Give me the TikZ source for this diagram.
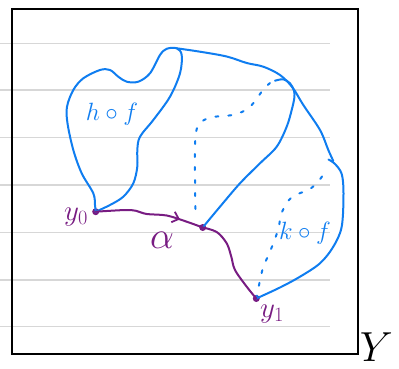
\RequirePackage{fix-cm}
\documentclass[tikz,border=0pt]{standalone}
\usetikzlibrary{decorations.markings,arrows.meta}
\definecolor{myblue}{RGB}{15,125,240}
\definecolor{mypurple}{RGB}{120,28,130}
\definecolor{gridgray}{RGB}{215,215,215}
\tikzset{
  blueline/.style={draw=myblue, line width=2pt, line cap=round, line join=round},
  purpleline/.style={draw=mypurple, line width=2pt, line cap=round, line join=round},
  dotline/.style={draw=myblue, line width=2pt, line cap=round, dash pattern=on 3pt off 10pt},
  gridline/.style={draw=gridgray, line width=1.1pt},
  framebox/.style={draw=black, line width=2pt},
  dotpt/.style={circle, fill=mypurple, inner sep=0pt, minimum size=7pt},
  bluelabel/.style={text=myblue, inner sep=0pt, font=\fontsize{25}{28}\selectfont},
  purplelabel/.style={text=mypurple, inner sep=0pt, font=\fontsize{29}{32}\selectfont},
  midarrow/.style={postaction={decorate}, decoration={markings, mark=at position #1 with {\arrow[mypurple,line width=1.8pt]{Straight Barb[length=6pt,width=11pt]}}}}
}
\begin{document}
\begin{tikzpicture}[x=1pt,y=-1pt]
\useasboundingbox (0,0) rectangle (399,369);
% ruled lines
\foreach \yy [count=\i] in {43.3,90,137.7,185,232.3,280,326.7}
  \draw[gridline] (0,\yy) coordinate (gl\i) -- (330,\yy) coordinate (gr\i);
% frame
\node[framebox, inner sep=0pt, minimum width=346pt, minimum height=345pt, anchor=north west] (frame) at (11,8) {};
% points
\node[dotpt] (y0) at (95.7,211.7) {};
\node[dotpt] (m) at (202.7,227.5) {};
\node[dotpt] (y1) at (256.3,298.5) {};
\coordinate (top) at (176.7,48.3);
\coordinate (junc) at (292.5,87.5);
% h o f loop
\draw[blueline] plot[smooth, tension=0.55] coordinates {
 (y0.center) (95,205) (93.3,193.3) (81.7,173.3) (73.3,150) (67.5,123.3) (67,106.7) (73.3,90) (83.3,78.3)
 (100,70) (110,70) (118.3,76.7) (126.7,81.7) (138.3,81.7) (150,73.3) (160,55) (166.7,48.8) (top)
 (181.7,55) (180,73.3) (170,96.7) (153.3,120) (140,136.7) (137.3,150) (137.3,166.7) (133.3,183.3)
 (123.3,196.7) (110,205) (y0.center)};
% outer big loop
\draw[blueline] plot[smooth, tension=0.55] coordinates {
 (top) (200,51.7) (226.7,56.5) (246.7,63) (263.3,66.7) (280,75) (junc) (303.3,105) (320,130)
 (328.3,150) (333.3,161)};
\draw[blueline] plot[smooth, tension=0.55] coordinates {
 (328.5,159.5) (335,164) (341.7,174) (343.5,193.3) (341.7,226.7) (333.3,246.7) (320,263.3)
 (300,276.7) (280,287.5) (y1.center)};
% inner curve
\draw[blueline] plot[smooth, tension=0.55] coordinates {
 (275,80.7) (283.3,79.3) (290,83.3) (294,90.7) (294.3,98) (291.7,110) (286.7,126.7) (276.7,146.7)
 (260,163.3) (240,183.3) (220,206.7) (m.center)};
% dotted lines
\draw[dotline] plot[smooth, tension=0.6] coordinates {
 (195.5,209) (195,180) (195,147) (197,128) (204,120) (215,116.7) (235,114.5) (250,106.7) (263,90) (270,83)};
\draw[dotline] plot[smooth, tension=0.6] coordinates {
 (y1.center) (258,290) (263,268) (270,251.7) (278,230) (282,212) (292,197) (310,189) (321.7,177) (325,168)};
% alpha path
\draw[purpleline, midarrow=0.78] plot[smooth, tension=0.55] coordinates {
 (y0.center) (110,210.8) (126.7,210) (136,210.8) (146.7,214) (166.7,215.5) (186.7,221.7) (m.center)};
\draw[purpleline] plot[smooth, tension=0.55] coordinates {
 (m.center) (216.7,232) (226.7,243.3) (231.3,256.7) (235,270) (246.7,286.7) (y1.center)};
% labels
\node[bluelabel] (hf) at (112,114) {$h\circ f$};
\node[bluelabel] (kf) at (305,233) {$k\circ f$};
\node[purplelabel] (ly0) at (76,217) {$y_0$};
\node[purplelabel, font=\fontsize{38}{42}\selectfont] (la) at (162,240) {$\alpha$};
\node[purplelabel] (ly1) at (272,314) {$y_1$};
\node[inner sep=0pt, anchor=base east, font=\fontsize{42}{46}\selectfont] (Y) at (393,361) {$Y$};
\end{tikzpicture}
\end{document}
